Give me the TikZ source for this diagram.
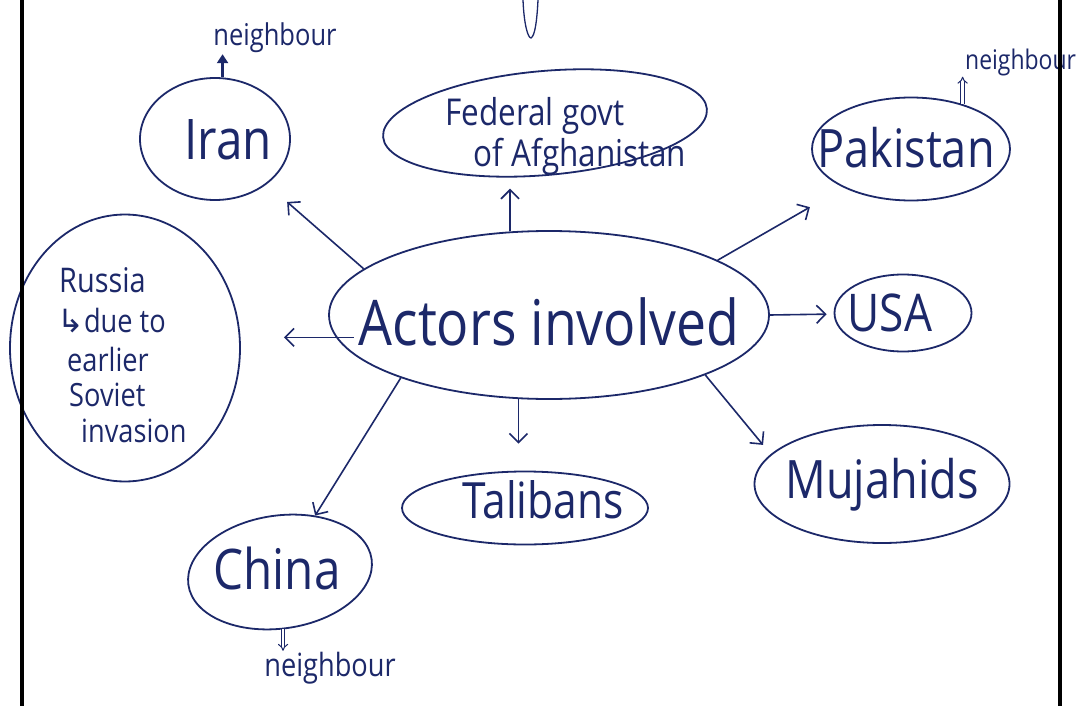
\documentclass[tikz,border=0pt]{standalone}
\usepackage{fontspec}
\newfontfamily\hand[FakeStretch=0.85]{Open Sans}
\newfontfamily\sym{DejaVu Sans}
\usetikzlibrary{shapes.geometric,arrows.meta,calc}
\definecolor{ink}{RGB}{28,40,105}
\tikzset{
  fs/.style={font={\hand\fontsize{#1}{#1}\selectfont}},
  ell/.style={draw=ink, line width=1.8pt, ellipse, inner sep=0pt},
  txt/.style={text=ink, inner sep=1pt},
  arr/.style={draw=ink, line width=1.6pt, -{Straight Barb[length=9pt,width=18pt]}},
  boldarr/.style={draw=ink, line width=3pt, -{Triangle[length=9pt,width=11pt]}},
  dbl/.style={draw=ink, double=white, double distance=2.5pt, line width=1pt, -{Implies}},
}
\begin{document}
\begin{tikzpicture}[x=1pt,y=-1pt]
\fill[white] (0,0) rectangle (1086,706);
\useasboundingbox (0,0) rectangle (1086,706);

% ellipses
\node[ell, minimum width=440pt, minimum height=168pt] (actors) at (549,315) {};
\node[ell, minimum width=150pt, minimum height=122pt] (iran) at (215,139) {};
\node[ell, minimum width=325pt, minimum height=104pt, rotate=5] (fed) at (545,123) {};
\node[ell, minimum width=198pt, minimum height=103pt] (pak) at (911,149) {};
\node[ell, minimum width=230pt, minimum height=267pt] (russia) at (125,348) {};
\node[ell, minimum width=137pt, minimum height=77pt] (usa) at (903,313) {};
\node[ell, minimum width=255pt, minimum height=118pt] (muj) at (882,484) {};
\node[ell, minimum width=246pt, minimum height=73pt] (tal) at (525,508) {};
\node[ell, minimum width=185pt, minimum height=113pt, rotate=8] (china) at (280,572) {};

% texts
\node[txt, fs=63] (actorsT) at (549,322) {Actors involved};
\node[txt, fs=56] (iranT) at (228,140) {Iran};
\node[txt, fs=37] (fed1) at (535,116) {Federal govt};
\node[txt, fs=37] (fed2) at (580,157) {of Afghanistan};
\node[txt, fs=53] (pakT) at (906,148) {Pakistan};
\node[txt, fs=52] (usaT) at (890,313) {USA};
\node[txt, fs=53] (mujT) at (882,485) {Mujahids};
\node[txt, fs=50] (talT) at (543,500) {Talibans};
\node[txt, fs=56] (chinaT) at (277,568) {China};
\node[txt, fs=34, anchor=west] (ru1) at (58,280) {Russia};
\node[txt, fs=32, anchor=west] (ru2) at (56,321) {{\sym ↳}due to};
\node[txt, fs=32, anchor=west] (ru3) at (66,359) {earlier};
\node[txt, fs=32, anchor=west] (ru4) at (68,395) {Soviet};
\node[txt, fs=32, anchor=west] (ru5) at (80,431) {invasion};
\node[txt, fs=30] (nbIran) at (275,38) {neighbour};
\node[txt, fs=27, anchor=west] (nbPak) at (964,62) {neighbour};
\node[txt, fs=32] (nbChina) at (330,668) {neighbour};

% connectors
\draw[arr, shorten >=27pt] (actors.166) -- (iran);
\draw[arr, shorten >=13pt] (actors.115) -- (actors.115 |- fed.south);
\draw[arr, shorten >=39pt] (actors.18) -- (pak);
\draw[arr, shorten >=7pt] (actors.east) -- (usa);
\draw[arr, shorten >=12pt] (actors.339) -- (muj.165);
\draw[arr, shorten >=27pt] (actors.250) -- (actors.250 |- tal.north);
\draw[arr] (actors.203) -- (china);
\draw[arr, shorten <=-18pt, shorten >=43pt] (actors.186) -- (actors.186 -| russia.east);

% neighbour arrows
\draw[boldarr] (iran.83) -- (iran.83 |- nbIran.south);
\draw[dbl] (pak.41) -- (pak.41 |- nbPak.south);
\draw[dbl] (china.265) -- (china.265 |- nbChina.north);

% stray stroke at top
\draw[ink, line width=1.3pt] (523,0) .. controls (524,25) and (528,38) .. (531,38) .. controls (535,36) and (537,20) .. (538,0);

% page borders
\draw[black, line width=4pt] (22,0) -- (22,706);
\draw[black, line width=3.5pt] (1060,0) -- (1060,706);
\end{tikzpicture}
\end{document}
